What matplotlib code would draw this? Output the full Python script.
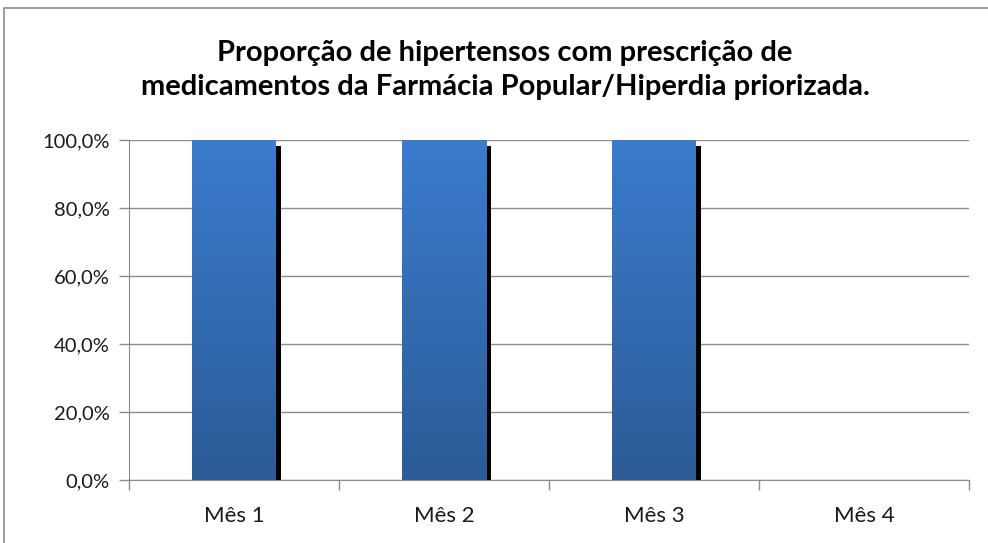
import numpy as np
import matplotlib
matplotlib.use('Agg')
import matplotlib.pyplot as plt
import matplotlib.patheffects as pe
from matplotlib.patches import Rectangle
from matplotlib.ticker import FuncFormatter

# data
categorias = ['Mês 1', 'Mês 2', 'Mês 3', 'Mês 4']
valores = [1.0, 1.0, 1.0, 0.0]
titulo = 'Proporção de hipertensos com prescrição de\nmedicamentos da Farmácia Popular/Hiperdia priorizada.'

plt.rcParams['font.family'] = ['Lato', 'DejaVu Sans']

fig = plt.figure(figsize=(9.88, 5.43), dpi=100)
ax = fig.add_axes([129/988, 1 - 480/543, (969 - 129)/988, (480 - 140)/543])

# outer chart border (top and left visible)
fig.add_artist(Rectangle((4/988, -0.1), 1.2, 1 - 8/543 + 0.1, transform=fig.transFigure,
                         fill=False, edgecolor='#8c8c8c', lw=1.2))

x = np.arange(len(categorias))
grey = '#8c8c8c'

ax.set_xlim(-0.5, len(categorias) - 0.5)
ax.set_ylim(0, 1)
ax.set_yticks(np.arange(0, 1.01, 0.2))
ax.yaxis.set_major_formatter(FuncFormatter(lambda v, p: f'{v*100:.1f}%'.replace('.', ',')))
ax.grid(axis='y', color=grey, lw=1)
ax.set_axisbelow(True)

# gradient for the bars
grad = np.linspace(0, 1, 256).reshape(-1, 1)
cmap = matplotlib.colors.LinearSegmentedColormap.from_list('g', ['#2c5b97', '#3b7ccd'])

bars = ax.bar(x, valores, width=0.4, color='#3572b8', edgecolor='none', zorder=2,
              path_effects=[pe.SimplePatchShadow(offset=(3.6, -4.3), shadow_rgbFace='black', alpha=1),
                            pe.Normal()])
for b in bars:
    if b.get_height() <= 0:
        continue
    im = ax.imshow(grad, cmap=cmap, origin='lower', aspect='auto', zorder=3,
                   extent=[b.get_x(), b.get_x() + b.get_width(), 0, b.get_height()])
    im.set_clip_path(b)
ax.set_xlim(-0.5, len(categorias) - 0.5)
ax.set_ylim(0, 1)

ax.set_xticks(x)
ax.set_xticklabels(categorias)
ax.set_xticks(np.arange(-0.5, len(categorias)), minor=True)
ax.tick_params(axis='x', which='major', length=0, pad=19, labelsize=16, labelcolor='#1a1a1a')
ax.tick_params(axis='x', which='minor', length=7, color=grey, width=1)
ax.tick_params(axis='y', length=7, color=grey, width=1, pad=7, labelsize=14.5, labelcolor='#1a1a1a')

for s in ['top', 'right']:
    ax.spines[s].set_visible(False)
ax.spines['left'].set_color(grey)
ax.spines['bottom'].set_color(grey)

fig.text(505/988, 1 - 70/543, titulo, ha='center', va='center', fontsize=21,
         fontweight='bold', linespacing=1.35, color='black')

fig.savefig('out.png', dpi=100)
